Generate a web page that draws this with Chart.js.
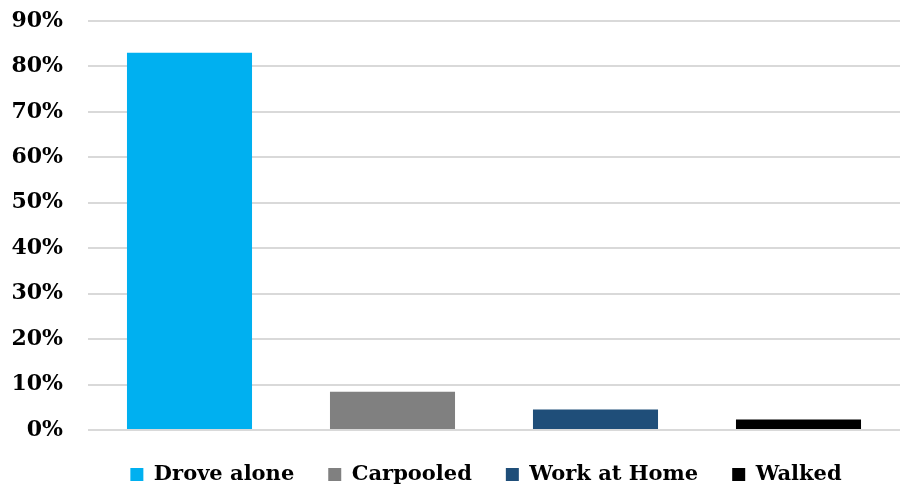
<!DOCTYPE html>
<html>
<head>
<meta charset="utf-8">
<script src="https://cdn.jsdelivr.net/npm/chart.js@4.4.1/dist/chart.umd.min.js"></script>
<style>
  html, body { margin: 0; padding: 0; background: #fff; }
  #wrap { width: 906px; height: 485px; }
</style>
</head>
<body>
<div id="wrap"><canvas id="modeChart" width="906" height="485"></canvas></div>
<script>
// commute mode shares (%)
const modes = ["Drove alone", "Carpooled", "Work at Home", "Walked"];
const shares = [83.0, 8.4, 4.5, 2.3];
const colors = ["#00B0F0", "#808080", "#1F4E79", "#000000"];
const yTicks = [0, 10, 20, 30, 40, 50, 60, 70, 80, 90];

const tickFont = { family: "'DejaVu Serif', serif", weight: "bold", size: 22 };
const legendFont = { family: "'DejaVu Serif', serif", weight: "bold", size: 21 };

// one dataset per mode so the legend lists each bar
const datasets = modes.map((m, i) => ({
    label: m,
    data: [shares[i]],
    backgroundColor: colors[i],
    borderWidth: 0,
    categoryPercentage: 1.0,
    barPercentage: 0.616,
}));

// fix legend height and centre it under the plot area, like the original
const legendPlace = {
    id: "legendPlace",
    afterInit(chart) {
        const fit = chart.legend.fit;
        chart.legend.fit = function () {
            fit.call(this);
            this.height = 55;
        };
    },
    afterLayout(chart) {
        chart.legend.left += 36;
        chart.legend.right += 36;
    },
};

const ctx = document.getElementById("modeChart").getContext("2d");
new Chart(ctx, {
    type: "bar",
    data: { labels: [""], datasets },
    options: {
        responsive: false,
        animation: false,
        layout: { padding: { top: 21, right: 6, left: 0, bottom: 0 } },
        plugins: {
            tooltip: { enabled: false },
            legend: {
                position: "bottom",
                labels: {
                    font: legendFont,
                    color: "#000",
                    boxWidth: 13,
                    boxHeight: 13,
                    padding: 34,
                },
            },
        },
        scales: {
            x: {
                display: false,
            },
            y: {
                min: 0,
                max: 90,
                afterFit: (s) => {
                    s.width = 88;
                    s.paddingTop = 0;
                    s.paddingBottom = 0;
                },
                afterBuildTicks: (s) => { s.ticks = yTicks.map((v) => ({ value: v })); },
                border: { display: false },
                grid: { color: "#d9d9d9", lineWidth: 2, drawTicks: false },
                ticks: {
                    padding: 25,
                    color: "#000",
                    font: tickFont,
                    callback: (v) => v + "%",
                },
            },
        },
    },
    plugins: [legendPlace],
});
</script>
</body>
</html>
